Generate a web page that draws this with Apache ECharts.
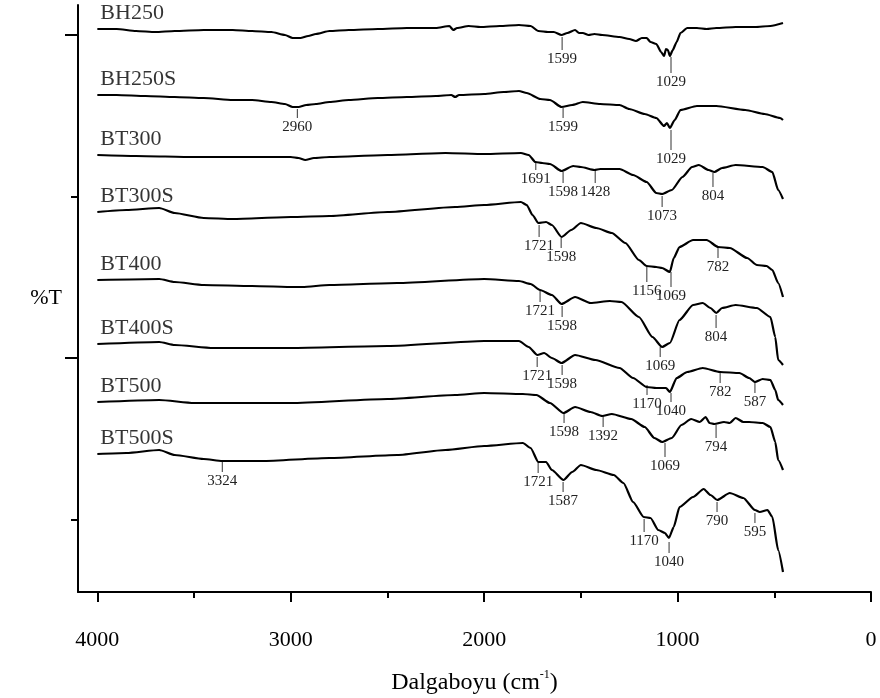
<!DOCTYPE html>
<html>
<head>
<meta charset="utf-8">
<script src="https://cdn.jsdelivr.net/npm/echarts@6/dist/echarts.min.js"></script>
<style>
    html, body { margin: 0; padding: 0; background: #fff; }
    #main { width: 880px; height: 698px; }
</style>
</head>
<body>
<div id="main"></div>
<script>
    // FTIR spectra, [wavenumber cm-1, %T with offset]
    var names = ['BH250', 'BH250S', 'BT300', 'BT300S', 'BT400', 'BT400S', 'BT500', 'BT500S'];

    var bh250 = [[4000, 563], [3900, 563], [3800, 561], [3700, 560], [3600, 561], [3450, 562], [3300, 562], [3200, 561],
        [3100, 560], [3030, 557], [2990, 554], [2950, 554], [2910, 556], [2870, 558], [2800, 561], [2700, 562],
        [2550, 563], [2400, 564], [2250, 564], [2180, 566], [2160, 562], [2140, 564], [2080, 566], [2020, 565],
        [1920, 566], [1820, 567], [1760, 566], [1720, 561], [1670, 560], [1640, 560], [1600, 557], [1570, 559],
        [1530, 562], [1510, 559], [1490, 559], [1460, 557], [1430, 558], [1390, 557], [1300, 555], [1250, 553],
        [1215, 551], [1185, 554], [1160, 554], [1140, 550], [1110, 548], [1085, 540], [1070, 536], [1060, 543],
        [1050, 542], [1040, 536], [1025, 542], [1005, 550], [985, 559], [950, 564], [900, 564], [850, 563],
        [800, 564], [700, 565], [600, 565], [520, 566], [455, 569]];
    var bh250s = [[4000, 497], [3900, 497], [3750, 496], [3600, 495], [3450, 494], [3300, 492], [3200, 492], [3100, 490],
        [3030, 488], [2990, 485], [2960, 485], [2920, 487], [2870, 488], [2800, 490], [2700, 492], [2550, 494],
        [2400, 495], [2250, 496], [2170, 497], [2150, 495], [2130, 497], [2000, 498], [1900, 500], [1820, 501],
        [1780, 499], [1710, 493], [1660, 492], [1600, 485], [1545, 487], [1490, 490], [1400, 488], [1300, 487],
        [1250, 483], [1170, 478], [1110, 474], [1070, 466], [1055, 469], [1040, 464], [1015, 472], [985, 482],
        [900, 486], [800, 486], [650, 482], [550, 478], [470, 474], [455, 472]];
    var bt300 = [[4000, 437], [3800, 436], [3500, 435], [3200, 435], [3000, 435], [2960, 434], [2925, 432], [2880, 434],
        [2800, 435], [2500, 437], [2200, 439], [2000, 438], [1810, 439], [1770, 437], [1735, 430], [1700, 429],
        [1660, 428], [1600, 421], [1540, 426], [1500, 425], [1430, 422], [1400, 423], [1300, 423], [1230, 417],
        [1160, 410], [1110, 399], [1080, 398], [1030, 402], [975, 415], [925, 425], [890, 427], [840, 422],
        [810, 420], [770, 424], [700, 427], [560, 425], [510, 420], [480, 402], [455, 393]];
    var bt300s = [[4000, 380], [3850, 382], [3680, 384], [3600, 379], [3450, 374], [3300, 373], [3000, 375], [2800, 376],
        [2500, 380], [2150, 385], [2000, 387], [1810, 390], [1780, 387], [1750, 377], [1720, 369], [1680, 370],
        [1650, 367], [1600, 355], [1550, 362], [1500, 369], [1420, 364], [1340, 359], [1270, 349], [1200, 332],
        [1160, 326], [1110, 325], [1080, 324], [1040, 320], [1020, 334], [990, 345], [920, 352], [850, 352],
        [790, 345], [730, 344], [640, 334], [590, 327], [540, 326], [510, 322], [480, 309], [455, 295]];
    var bt400 = [[4000, 312], [3680, 313], [3600, 310], [3450, 307], [3200, 306], [2980, 305], [2940, 305], [2800, 307],
        [2450, 309], [2000, 313], [1820, 311], [1760, 308], [1711, 302], [1650, 297], [1600, 288], [1530, 295],
        [1450, 289], [1350, 291], [1290, 290], [1200, 275], [1130, 255], [1080, 245], [1040, 249], [990, 272],
        [920, 287], [870, 289], [830, 284], [800, 279], [770, 284], [700, 287], [590, 284], [520, 275],
        [495, 255], [480, 232], [455, 227]];
    var bt400s = [[4000, 248], [3680, 250], [3600, 247], [3400, 244], [3000, 244], [2500, 246], [2000, 251], [1820, 251],
        [1770, 245], [1725, 237], [1690, 239], [1650, 234], [1600, 229], [1530, 237], [1425, 232], [1300, 224],
        [1230, 214], [1160, 205], [1110, 204], [1060, 204], [1040, 200], [1005, 214], [950, 220], [870, 224],
        [780, 220], [680, 219], [630, 214], [600, 210], [560, 213], [520, 212], [495, 202], [480, 192], [455, 187]];
    var bt500 = [[4000, 190], [3680, 192], [3500, 189], [3000, 189], [2500, 193], [2150, 197], [2000, 199], [1800, 198],
        [1730, 197], [1660, 189], [1590, 179], [1530, 185], [1450, 180], [1390, 176], [1340, 178], [1240, 173],
        [1170, 165], [1120, 154], [1080, 150], [1030, 154], [980, 167], [930, 173], [885, 170], [855, 175],
        [835, 169], [810, 168], [760, 170], [730, 169], [700, 174], [660, 170], [630, 170], [560, 169],
        [520, 165], [495, 150], [480, 132], [455, 122]];
    var bt500s = [[4000, 138], [3850, 139], [3680, 142], [3600, 137], [3450, 133], [3354, 131], [3150, 131], [2800, 134],
        [2450, 137], [2200, 142], [2000, 146], [1800, 149], [1760, 144], [1720, 130], [1680, 130], [1650, 122],
        [1590, 112], [1545, 120], [1500, 127], [1420, 122], [1330, 117], [1280, 109], [1230, 90], [1175, 75],
        [1140, 74], [1100, 62], [1065, 59], [1045, 54], [1020, 65], [990, 85], [920, 95], [865, 103],
        [830, 97], [795, 92], [730, 99], [660, 94], [600, 82], [575, 80], [535, 82], [510, 75], [480, 42], [455, 20]];

    // peak marks: [position, label, tick top, tick bottom]
    var bh250Peaks = [[1597, '1599', 555, 542], [1034, '1029', 535, 519]];
    var bh250sPeaks = [[2966, '2960', 483, 474], [1592, '1599', 484, 474], [1034, '1029', 462, 442]];
    var bt300Peaks = [[1733, '1691', 431, 422], [1592, '1598', 420, 409], [1426, '1428', 421, 409],
        [1080, '1073', 396, 385], [817, '804', 419, 405]];
    var bt300sPeaks = [[1716, '1721', 367, 355], [1602, '1598', 354, 344], [1159, '1156', 325, 310],
        [1034, '1069', 320, 305], [791, '782', 344, 334]];
    var bt400Peaks = [[1711, '1721', 302, 290], [1597, '1598', 286, 275], [1090, '1069', 245, 235], [801, '804', 277, 264]];
    var bt400sPeaks = [[1726, '1721', 235, 225], [1597, '1598', 227, 217], [1158, '1170', 207, 197],
        [1034, '1040', 199, 190], [780, '782', 220, 209], [600, '587', 210, 199]];
    var bt500Peaks = [[1587, '1598', 179, 169], [1385, '1392', 176, 165], [1065, '1069', 149, 135], [801, '794', 167, 154]];
    var bt500sPeaks = [[3354, '3324', 130, 120], [1721, '1721', 129, 119], [1592, '1587', 110, 100],
        [1173, '1170', 73, 60], [1044, '1040', 50, 39], [796, '790', 90, 80], [600, '595', 79, 69]];

    var xMajor = [0, 1000, 2000, 3000, 4000];
    var xMinor = [500, 1500, 2500, 3500];
    var yMajor = [234, 557];
    var yMinor = [72, 395];

    var curves = [bh250, bh250s, bt300, bt300s, bt400, bt400s, bt500, bt500s];
    var allPeaks = [].concat(bh250Peaks, bh250sPeaks, bt300Peaks, bt300sPeaks, bt400Peaks, bt400sPeaks, bt500Peaks, bt500sPeaks);

    var serif = '"Liberation Serif", "Times New Roman", serif';
    var myChart = echarts.init(document.getElementById('main'));

    var series = curves.map(function (d, i) {
        return {
            name: names[i],
            type: 'line',
            data: d,
            showSymbol: false,
            smooth: 0.2,
            smoothMonotone: 'x',
            lineStyle: {color: '#000', width: 2.2},
            silent: true
        };
    });
    series.push({
        type: 'scatter',
        symbolSize: 0,
        silent: true,
        data: names.map(function (n, i) {
            return {name: n, value: curves[i][0]};
        }),
        label: {
            show: true,
            position: 'top',
            distance: 5,
            align: 'left',
            offset: [3, 0],
            formatter: '{b}',
            fontSize: 22,
            fontFamily: serif,
            color: '#000'
        }
    });
    series.push({
        type: 'custom',
        silent: true,
        data: allPeaks.map(function (p) {
            return [p[0], p[2], p[3]];
        }),
        encode: {x: 0, y: [1, 2]},
        renderItem: function (params, api) {
            var p = allPeaks[params.dataIndex];
            var a = api.coord([p[0], p[2]]);
            var b = api.coord([p[0], p[3]]);
            return {
                type: 'group',
                children: [
                    {type: 'line', shape: {x1: a[0], y1: a[1], x2: b[0], y2: b[1]}, style: {stroke: '#333', lineWidth: 1}},
                    {type: 'text', x: b[0], y: b[1] + 2, style: {text: p[1], align: 'center', verticalAlign: 'top',
                        fontSize: 15, fontFamily: serif, fill: '#222'}}
                ]
            };
        }
    });

    var option = {
        animation: false,
        backgroundColor: '#fff',
        grid: {left: 78, right: 9, top: 5, bottom: 106, outerBoundsMode: 'none'},
        xAxis: [{
            type: 'value',
            min: 0,
            max: 4100,
            inverse: true,
            position: 'bottom',
            splitLine: {show: false},
            axisLine: {onZero: false, lineStyle: {color: '#000', width: 2}},
            axisTick: {customValues: xMajor, length: 10, lineStyle: {color: '#000', width: 2}},
            axisLabel: {
                customValues: xMajor, margin: 37, fontSize: 22, fontFamily: serif, color: '#000',
                formatter: function (v) { return String(v); }
            },
            name: 'Dalgaboyu (cm{sup|-1})',
            nameLocation: 'middle',
            nameGap: 77,
            nameTextStyle: {
                fontSize: 24, fontFamily: serif, color: '#000', lineHeight: 28,
                rich: {sup: {fontSize: 12, fontFamily: serif, color: '#000', verticalAlign: 'top', lineHeight: 28}}
            }
        }, {
            type: 'value',
            min: 0,
            max: 4100,
            inverse: true,
            position: 'bottom',
            offset: 0,
            splitLine: {show: false},
            axisLine: {show: false, onZero: false},
            axisTick: {customValues: xMinor, length: 6, lineStyle: {color: '#000', width: 2}},
            axisLabel: {show: false}
        }],
        yAxis: [{
            type: 'value',
            min: 0,
            max: 587,
            position: 'left',
            offset: 0,
            splitLine: {show: false},
            axisLine: {show: true, onZero: false, lineStyle: {color: '#000', width: 2}},
            axisTick: {show: true, customValues: yMajor, length: 13, lineStyle: {color: '#000', width: 2}},
            axisLabel: {show: false},
            name: '%T',
            nameLocation: 'middle',
            nameRotate: 0,
            nameGap: 16,
            nameTextStyle: {fontSize: 22, fontFamily: serif, color: '#000', padding: [0, 0, 52, 0]}
        }, {
            type: 'value',
            min: 0,
            max: 587,
            position: 'left',
            offset: 0,
            splitLine: {show: false},
            axisLine: {show: false, onZero: false},
            axisTick: {show: true, customValues: yMinor, length: 7, lineStyle: {color: '#000', width: 2}},
            axisLabel: {show: false}
        }],
        series: series
    };
    myChart.setOption(option);
</script>
</body>
</html>
